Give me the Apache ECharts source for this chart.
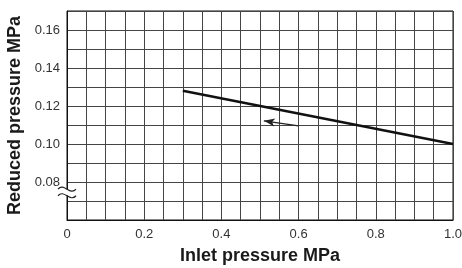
<!DOCTYPE html>
<html>
<head>
<meta charset="utf-8">
<script src="https://cdn.jsdelivr.net/npm/echarts@6/dist/echarts.min.js"></script>
<style>
html, body { margin: 0; padding: 0; background: #fff; }
#chart { width: 462px; height: 268px; }
</style>
</head>
<body>
<div id="chart"></div>
<script>
////--------------------------------------------------------------------////
const inlet_pressure   = [0.3, 1.0];
const reduced_pressure = [0.128, 0.100];
const arrow_x          = [0.60, 0.51];
const arrow_y          = [0.1095, 0.1122];
const x_tick_labels    = ['0', '0.2', '0.4', '0.6', '0.8', '1.0'];
const y_tick_labels    = ['0.08', '0.10', '0.12', '0.14', '0.16'];
const axis_break       = [0, 0.0745];
////--------------------------------------------------------------------////
const font = 'Liberation Sans, Arial, sans-serif';
const grid_color = '#444';

const chart = echarts.init(document.getElementById('chart'), null, {renderer: 'canvas'});

const option = {
    animation: false,
    grid: {left: 67, right: 9, top: 11, bottom: 48, show: true, borderColor: '#111', borderWidth: 1,
           containLabel: false, outerBoundsMode: 'none'},
    xAxis: {
        type: 'value',
        min: 0, max: 1.0, interval: 0.05,
        name: 'Inlet pressure MPa',
        nameLocation: 'middle',
        nameGap: 27,
        nameTextStyle: {fontFamily: font, fontWeight: 'bold', fontSize: 18, color: '#1a1a1a'},
        axisLine: {lineStyle: {color: '#111', width: 1}},
        axisTick: {show: false},
        splitLine: {lineStyle: {color: grid_color, width: 1}},
        axisLabel: {
            fontFamily: font, fontSize: 13, color: '#333', margin: 8,
            formatter: function (v) {
                const i = Math.round(v / 0.2);
                return Math.abs(v - i * 0.2) < 1e-6 ? x_tick_labels[i] : '';
            }
        }
    },
    yAxis: {
        type: 'value',
        min: 0.06, max: 0.17, interval: 0.01,
        name: 'Reduced pressure MPa',
        nameLocation: 'middle',
        nameGap: 42,
        nameTextStyle: {fontFamily: font, fontWeight: 'bold', fontSize: 18, color: '#1a1a1a'},
        axisLine: {show: true, lineStyle: {color: '#111', width: 1}},
        axisTick: {show: false},
        splitLine: {lineStyle: {color: grid_color, width: 1}},
        axisLabel: {
            fontFamily: font, fontSize: 13, color: '#333', margin: 7,
            formatter: function (v) {
                const s = v.toFixed(2);
                return y_tick_labels.indexOf(s) >= 0 ? s : '';
            }
        }
    },
    series: [
        {
            type: 'line',
            data: inlet_pressure.map((x, i) => [x, reduced_pressure[i]]),
            symbol: 'none',
            lineStyle: {color: '#111', width: 2.5},
            markLine: {
                silent: true,
                symbol: ['none', 'arrow'],
                symbolSize: [6, 11],
                label: {show: false},
                lineStyle: {color: '#222', width: 1.2, type: 'solid'},
                data: [[
                    {coord: [arrow_x[0], arrow_y[0]]},
                    {coord: [arrow_x[1], arrow_y[1]]}
                ]]
            }
        }
    ]
};
chart.setOption(option);

////-------------------////
function draw_break() {
    const p = chart.convertToPixel({gridIndex: 0}, axis_break);
    const cx = p[0], cy = p[1];
    const wave = function (dy) {
        return {
            type: 'bezierCurve',
            shape: {x1: cx - 9, y1: cy + dy, x2: cx + 9, y2: cy + dy, cpx1: cx - 3, cpy1: cy + dy - 7, cpx2: cx + 3, cpy2: cy + dy + 7},
            style: {stroke: '#222', lineWidth: 1.2, fill: null},
            z: 100
        };
    };
    chart.setOption({
        graphic: [
            {type: 'rect', shape: {x: cx - 2, y: cy - 3, width: 4, height: 6}, style: {fill: '#fff'}, z: 99},
            wave(-3.3),
            wave(3.3)
        ]
    });
}
draw_break();
</script>
</body>
</html>
